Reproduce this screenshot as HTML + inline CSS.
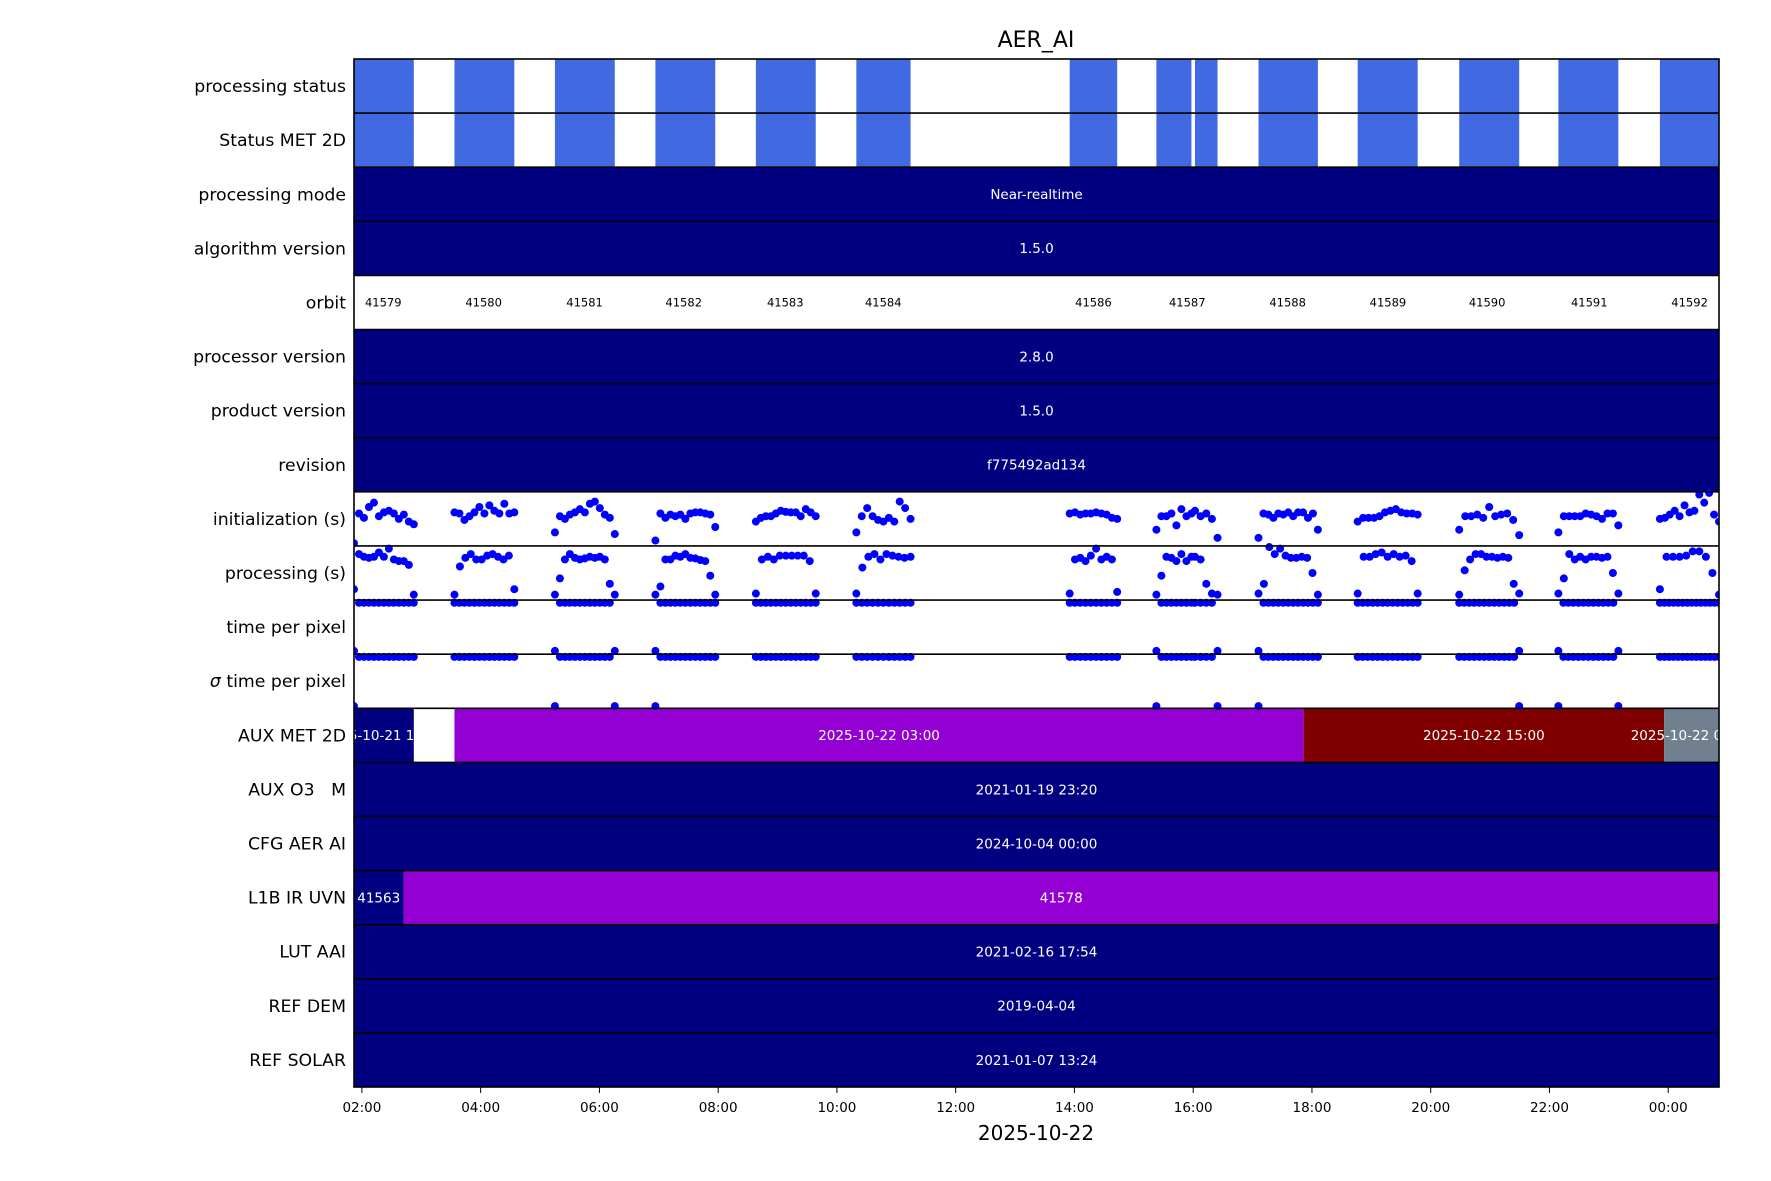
<!DOCTYPE html>
<html><head><meta charset="utf-8"><title>AER_AI</title>
<style>
html,body{margin:0;padding:0;background:#fff;}
svg{display:block;font-family:"DejaVu Sans","Liberation Sans",sans-serif;}
</style></head>
<body>
<svg id="chart" width="1771" height="1181" viewBox="0 0 1771 1181" xmlns="http://www.w3.org/2000/svg">
<defs><clipPath id="plotclip"><rect x="354" y="59" width="1365" height="1028"/></clipPath></defs>
<rect x="0" y="0" width="1771" height="1181" fill="#fff"/>
<text x="1036" y="47" font-size="22" text-anchor="middle">AER_AI</text>
<g id="bars" clip-path="url(#plotclip)"></g>
<g id="bartext"></g>
<g id="dots" clip-path="url(#plotclip)"></g>
<g id="lines"></g>
<g id="ylabels"></g>
<g id="xaxis"></g>
<text x="1036" y="1140" font-size="20" text-anchor="middle">2025-10-22</text>
</svg>
<script>
// ---- data ----
const rowLabels = ["processing status","Status MET 2D","processing mode","algorithm version","orbit","processor version","product version","revision","initialization (s)","processing (s)","time per pixel","\u03c3 time per pixel","AUX MET 2D","AUX O3   M","CFG AER AI","L1B IR UVN","LUT AAI","REF DEM","REF SOLAR"];
const blockStart = [1.867,3.559,5.251,6.943,8.635,10.327,13.92,15.38,16.03,17.10,18.77,20.48,22.15,23.86];
const blockEnd   = [2.874,4.567,6.259,7.951,9.643,11.24,14.72,15.97,16.41,18.10,19.78,21.49,23.16,24.855];
const orbitLabels = ["41579","41580","41581","41582","41583","41584","41586","41587","41588","41589","41590","41591","41592"];
const orbitTimes  = [2.36,4.05,5.75,7.42,9.13,10.78,14.32,15.90,17.59,19.28,20.95,22.67,24.36];
const fullRows = [
 {row:2,text:"Near-realtime"},{row:3,text:"1.5.0"},{row:5,text:"2.8.0"},{row:6,text:"1.5.0"},
 {row:7,text:"f775492ad134"},{row:13,text:"2021-01-19 23:20"},{row:14,text:"2024-10-04 00:00"},
 {row:16,text:"2021-02-16 17:54"},{row:17,text:"2019-04-04"},{row:18,text:"2021-01-07 13:24"}];
const auxMetStart = [1.867,3.559,17.86,23.93];
const auxMetEnd   = [2.874,17.86,23.93,24.855];
const auxMetColor = ["#000080","#9400D3","#800000","#708090"];
const auxMetText  = ["2025-10-21 15:00","2025-10-22 03:00","2025-10-22 15:00","2025-10-22 09:00"];
const l1bStart = [1.867,2.70];
const l1bEnd   = [2.70,24.855];
const l1bColor = ["#000080","#9400D3"];
const l1bText  = ["41563","41578"];
const initVals = [
 [0.05,0.6,0.52,0.72,0.8,0.55,0.62,0.65,0.6,0.5,0.58,0.45,0.4],
 [0.62,0.6,0.48,0.55,0.62,0.72,0.6,0.75,0.65,0.6,0.78,0.6,0.62],
 [0.25,0.55,0.5,0.58,0.62,0.68,0.62,0.78,0.82,0.7,0.58,0.52,0.22],
 [0.1,0.6,0.52,0.58,0.55,0.58,0.5,0.6,0.62,0.62,0.6,0.58,0.35],
 [0.45,0.52,0.55,0.55,0.6,0.65,0.63,0.62,0.62,0.55,0.68,0.62,0.55],
 [0.25,0.55,0.7,0.55,0.48,0.45,0.52,0.45,0.82,0.7,0.5],
 [0.6,0.62,0.58,0.6,0.6,0.62,0.6,0.58,0.52,0.5],
 [0.3,0.55,0.55,0.6,0.38,0.68,0.55,0.6],
 [0.65,0.55,0.6,0.5,0.15],
 [0.15,0.6,0.58,0.52,0.6,0.58,0.62,0.55,0.62,0.62,0.52,0.6,0.3],
 [0.45,0.52,0.52,0.52,0.55,0.62,0.65,0.68,0.62,0.6,0.6,0.58],
 [0.3,0.55,0.55,0.58,0.52,0.72,0.55,0.58,0.6,0.48,0.2],
 [0.25,0.55,0.55,0.55,0.55,0.6,0.58,0.55,0.5,0.6,0.6,0.38],
 [0.5,0.52,0.58,0.65,0.55,0.75,0.62,0.65,0.95,0.8,0.98,0.58,0.45]];
const procVals = [
 [0.2,0.85,0.8,0.78,0.8,0.88,0.8,0.95,0.75,0.72,0.72,0.65,0.1],
 [0.1,0.62,0.78,0.85,0.75,0.75,0.82,0.85,0.8,0.75,0.82,0.2],
 [0.1,0.4,0.75,0.85,0.78,0.75,0.77,0.8,0.78,0.8,0.75,0.3,0.1],
 [0.1,0.25,0.75,0.75,0.82,0.8,0.85,0.78,0.77,0.74,0.72,0.45,0.1],
 [0.12,0.75,0.8,0.75,0.82,0.82,0.82,0.82,0.82,0.72,0.12],
 [0.12,0.6,0.8,0.85,0.75,0.85,0.82,0.8,0.78,0.8],
 [0.12,0.75,0.78,0.72,0.82,0.95,0.75,0.8,0.75,0.15],
 [0.1,0.45,0.8,0.78,0.72,0.85,0.72,0.8],
 [0.8,0.75,0.3,0.12,0.1],
 [0.12,0.3,0.98,0.85,0.95,0.82,0.78,0.78,0.8,0.78,0.5,0.1],
 [0.12,0.8,0.8,0.85,0.88,0.8,0.85,0.8,0.82,0.72,0.12],
 [0.1,0.55,0.75,0.85,0.85,0.8,0.8,0.78,0.8,0.78,0.3,0.12],
 [0.12,0.4,0.85,0.75,0.8,0.75,0.8,0.8,0.78,0.8,0.5,0.12],
 [0.2,0.8,0.8,0.8,0.82,0.9,0.9,0.8,0.5,0.1]];
const tppVals = [
 [0.06,0.95,0.95,0.95,0.95,0.95,0.95,0.95,0.95,0.95,0.95,0.95,0.95],
 [0.95,0.95,0.95,0.95,0.95,0.95,0.95,0.95,0.95,0.95,0.95,0.95,0.95],
 [0.06,0.95,0.95,0.95,0.95,0.95,0.95,0.95,0.95,0.95,0.95,0.95,0.06],
 [0.06,0.95,0.95,0.95,0.95,0.95,0.95,0.95,0.95,0.95,0.95,0.95,0.95],
 [0.95,0.95,0.95,0.95,0.95,0.95,0.95,0.95,0.95,0.95,0.95,0.95,0.95],
 [0.95,0.95,0.95,0.95,0.95,0.95,0.95,0.95,0.95,0.95,0.95],
 [0.95,0.95,0.95,0.95,0.95,0.95,0.95,0.95,0.95,0.95],
 [0.06,0.95,0.95,0.95,0.95,0.95,0.95,0.95],
 [0.95,0.95,0.95,0.95,0.06],
 [0.06,0.95,0.95,0.95,0.95,0.95,0.95,0.95,0.95,0.95,0.95,0.95,0.95],
 [0.95,0.95,0.95,0.95,0.95,0.95,0.95,0.95,0.95,0.95,0.95,0.95,0.95],
 [0.95,0.95,0.95,0.95,0.95,0.95,0.95,0.95,0.95,0.95,0.95,0.95,0.06],
 [0.06,0.95,0.95,0.95,0.95,0.95,0.95,0.95,0.95,0.95,0.95,0.95,0.06],
 [0.95,0.95,0.95,0.95,0.95,0.95,0.95,0.95,0.95,0.95,0.95,0.95,0.95,0.95]];
const sigmaVals = [
 [0.04,0.95,0.95,0.95,0.95,0.95,0.95,0.95,0.95,0.95,0.95,0.95,0.95],
 [0.95,0.95,0.95,0.95,0.95,0.95,0.95,0.95,0.95,0.95,0.95,0.95,0.95],
 [0.04,0.95,0.95,0.95,0.95,0.95,0.95,0.95,0.95,0.95,0.95,0.95,0.04],
 [0.04,0.95,0.95,0.95,0.95,0.95,0.95,0.95,0.95,0.95,0.95,0.95,0.95],
 [0.95,0.95,0.95,0.95,0.95,0.95,0.95,0.95,0.95,0.95,0.95,0.95,0.95],
 [0.95,0.95,0.95,0.95,0.95,0.95,0.95,0.95,0.95,0.95,0.95],
 [0.95,0.95,0.95,0.95,0.95,0.95,0.95,0.95,0.95,0.95],
 [0.04,0.95,0.95,0.95,0.95,0.95,0.95,0.95],
 [0.95,0.95,0.95,0.95,0.04],
 [0.04,0.95,0.95,0.95,0.95,0.95,0.95,0.95,0.95,0.95,0.95,0.95,0.95],
 [0.95,0.95,0.95,0.95,0.95,0.95,0.95,0.95,0.95,0.95,0.95,0.95,0.95],
 [0.95,0.95,0.95,0.95,0.95,0.95,0.95,0.95,0.95,0.95,0.95,0.95,0.04],
 [0.04,0.95,0.95,0.95,0.95,0.95,0.95,0.95,0.95,0.95,0.95,0.95,0.04],
 [0.95,0.95,0.95,0.95,0.95,0.95,0.95,0.95,0.95,0.95,0.95,0.95,0.95,0.95]];
const xTicks = [2,4,6,8,10,12,14,16,18,20,22,24];
const xTickLabels = ["02:00","04:00","06:00","08:00","10:00","12:00","14:00","16:00","18:00","20:00","22:00","00:00"];

// ---- layout ----
const NS = "http://www.w3.org/2000/svg";
const L = 354, R = 1719, T = 59, B = 1087;
const tMin = 1.867, tMax = 24.855;
const rowH = (B - T) / rowLabels.length;
function xs(t){ return L + (t - tMin) / (tMax - tMin) * (R - L); }
function rowTop(i){ return T + i * rowH; }
function yv(row, v){ return rowTop(row) + rowH - v * rowH; }
function mk(tag, attrs, parent){
  const e = document.createElementNS(NS, tag);
  for (const k in attrs) e.setAttribute(k, attrs[k]);
  parent.appendChild(e); return e;
}
const gBars = document.getElementById('bars');
const gText = document.getElementById('bartext');
const gDots = document.getElementById('dots');
const gLines = document.getElementById('lines');
const gY = document.getElementById('ylabels');
const gX = document.getElementById('xaxis');

function barText(x, row, txt, color, size){
  const t = mk('text', {x:x, y:rowTop(row) + rowH/2 + size*0.36, 'font-size':size, 'text-anchor':'middle', fill:color}, gText);
  
  
  t.textContent = txt;
}

[0,1].forEach(function(row){
  blockStart.forEach(function(s, i){
    const r = mk('rect', {x:xs(s), y:rowTop(row), width:xs(blockEnd[i]) - xs(s), height:rowH, fill:'#4169E1'}, gBars);
    
    
  });
});
fullRows.forEach(function(f){
  const r = mk('rect', {x:L, y:rowTop(f.row), width:R - L, height:rowH, fill:'#000080'}, gBars);
  
  
  barText((L + R)/2, f.row, f.text, '#fff', 13.5);
});
orbitLabels.forEach(function(lab, i){
  barText(xs(orbitTimes[i]), 4, lab, '#000', 11.5);
});
auxMetStart.forEach(function(s, i){
  const r = mk('rect', {x:xs(s), y:rowTop(12), width:xs(auxMetEnd[i]) - xs(s), height:rowH, fill:auxMetColor[i]}, gBars);
  
  
  barText((xs(s) + xs(auxMetEnd[i]))/2, 12, auxMetText[i], '#fff', 13.5);
});
l1bStart.forEach(function(s, i){
  const r = mk('rect', {x:xs(s), y:rowTop(15), width:xs(l1bEnd[i]) - xs(s), height:rowH, fill:l1bColor[i]}, gBars);
  
  
  barText((xs(s) + xs(l1bEnd[i]))/2, 15, l1bText[i], '#fff', 13.5);
});
function scatter(vals, row, name){
  vals.forEach(function(arr, b){
    const s = blockStart[b], e = blockEnd[b], n = arr.length;
    arr.forEach(function(v, k){
      const t = s + (e - s) * (n > 1 ? k/(n - 1) : 0);
      const c = mk('circle', {cx:xs(t), cy:yv(row, v), r:4, fill:'#0000ff'}, gDots);
      
      
    });
  });
}
scatter(initVals, 8, 'init-point');
scatter(procVals, 9, 'processing-point');
scatter(tppVals, 10, 'time-per-pixel-point');
scatter(sigmaVals, 11, 'sigma-time-point');

rowLabels.forEach(function(lab, i){
  if (i > 0){
    const ln = mk('line', {x1:L, x2:R, y1:rowTop(i), y2:rowTop(i), stroke:'#000', 'stroke-width':1.6}, gLines);
    
    
  }
  const cy = rowTop(i) + rowH/2;
  const t = mk('text', {x:L - 8, y:cy + 6, 'font-size':17.3, 'text-anchor':'end', fill:'#000'}, gY);
  
  
  t.setAttribute('xml:space', 'preserve');
  t.style.whiteSpace = 'pre';
  if (lab.charAt(0) === '\u03c3'){
    const sp = mk('tspan', {'font-style':'italic'}, t); sp.textContent = '\u03c3';
    const sp2 = mk('tspan', {}, t); sp2.textContent = lab.slice(1);
  } else t.textContent = lab;
});
const frame = mk('rect', {x:L, y:T, width:R - L, height:B - T, fill:'none', stroke:'#000', 'stroke-width':1.6}, gLines);



xTicks.forEach(function(h, i){
  const x = xs(h);
  const tk = mk('line', {x1:x, x2:x, y1:B, y2:B + 6, stroke:'#000', 'stroke-width':1}, gX);
  
  
  const t = mk('text', {x:x, y:B + 25, 'font-size':13.5, 'text-anchor':'middle'}, gX);
  
  
  t.textContent = xTickLabels[i];
});
</script>
</body></html>
